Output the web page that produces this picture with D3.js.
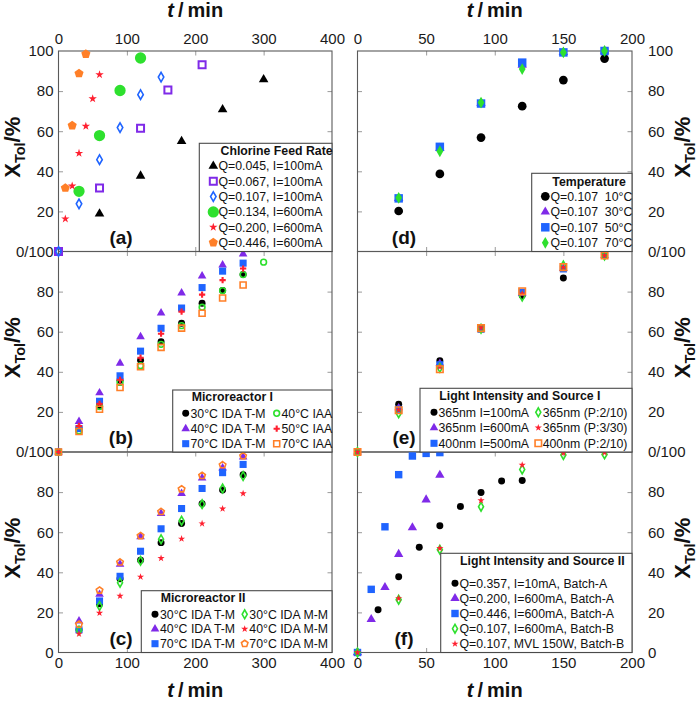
<!DOCTYPE html>
<html><head><meta charset="utf-8">
<script src="https://cdn.jsdelivr.net/npm/d3@7"></script>
<style>body{margin:0;background:#fff}svg{display:block}</style>
</head><body><svg width="700" height="703"></svg>
<script>
// ---------- DATA ----------
// Panel (a): Chlorine feed rate
const tA045 = [60,120,180,240,300];        const vA045 = [18.8,37.7,55,70.8,85.8];
const tA067 = [0,60,120,160,210];          const vA067 = [0,31.7,61.5,80.5,93.2];
const tA107 = [0,30,60,90,120,150];        const vA107 = [0,23.8,45.8,61.8,78.2,87];
const tA134 = [30,60,90,120];              const vA134 = [30,57.8,80.3,96.5];
const tA200 = [10,20,30,40,50,60];         const vA200 = [16.3,32.7,49,62.5,76.2,88.2];
const tA446 = [10,20,30,40];               const vA446 = [31.7,62.8,88.8,98.5];
// Panel (b): Microreactor I
const tB = [0,30,60,90,120,150,180,210,240,270];
const tB40IAA = [0,30,60,90,120,150,180,210,240,270,300];
const vB30IDA = [0,12,23,35.8,45.8,55,64.2,74.2,80.5,88.5];
const vB40IDA = [0,15.2,29.5,44.3,57.5,69.3,79.3,87.8,93.3,98.8];
const vB70IDA = [0,11.7,25.3,38,50.3,61.7,71.8,82,90.2,94.2];
const vB40IAA = [0,10.5,22.7,34.7,43,53.7,63,72.2,80.5,88.5,94.7];
const vB50IAA = [0,13,24,36,47,59,70,78.5,85.7,91.5];
const vB70IAA = [0,10.2,21.3,32.2,42.5,52.2,61.8,69.2,76.8,83.3];
// Panel (c): Microreactor II
const tC = [30,60,90,120,150,180,210,240,270];
const vC30TM = [11.3,24.3,36.8,46,54.8,64.3,74.2,81,88.7];
const vC40TM = [15.7,29,44,57.7,69.3,79.3,87,92,97.5];
const vC70TM = [11.3,25.7,38,50.5,61.7,71.8,81.8,89.7,93.8];
const vC30MM = [11,23.2,34.8,45.7,56.5,65.7,74,81.8,88];
const vC40MM = [9.3,19.7,28.2,37.7,47,56.7,64.3,71.7,79.3];
const vC70MM = [14,31,45,58.2,70.2,81.5,88.2,93.5,98];
// Panel (d): Temperature
const tD = [30,60,90,120,150,180];
const vD10 = [20.2,38.7,56.8,72.5,85.5,96.2];
const vD30 = [26.5,51.5,74,93,99.3,100];
const vD50 = [26.5,52.2,73.8,94.2,99.3,100];
const vD70 = [26.8,50,74.3,91,99.3,100];
// Panel (e): Light intensity and source I
const tE = [0,30,60,90,120,150,180];
const vE365I100 = [0,23.8,45.5,61.8,78,86.8,98];
const vE365I600 = [0,22,44.2,61.5,79,91.5,98];
const vE400I500 = [0,21.3,43.5,61.2,79.7,91.3,98];
const vE365P210 = [0,19.3,42,61.5,77.5,93,98];
const vE365P330 = [0,21,42.5,62,79,92,98];
const vE400P210 = [0,20.8,41.3,61.8,80.2,92.2,98];
// Panel (f): Light intensity and source II
const tF357 = [0,15,30,45,60,75,90,105,120]; const vF357 = [0,21.3,37.8,52.5,63.2,72.8,79.8,85.5,85.8];
const tF200 = [0,10,20,30,40,50,60];         const vF200 = [0,16.5,32.5,49,62.3,76.2,88.5];
const tF446 = [0,10,20,30,40,50,60];         const vF446 = [0,31.5,62.7,88.7,98,99.3,99.7];
const tFB = [0,30,60,90,120,150,180];
const vF107 = [0,26.3,51.3,72.7,91.3,98.5,98.8];
const vFMVL = [0,27,52,75.8,93.5,99.5,99.7];
// Ticks / labels
const xTicksL = [0,100,200,300,400];
const xTicksR = [0,50,100,150,200];
const yTicks = [0,20,40,60,80,100];
const legendTitles = ["Chlorine Feed Rate","Microreactor I","Microreactor II","Temperature","Light Intensity and Source I","Light Intensity and Source II"];
const panelLabels = ["(a)","(b)","(c)","(d)","(e)","(f)"];

// ---------- STYLE / LAYOUT ----------
const FONT = "'Liberation Sans', Arial, sans-serif";
const COL = {k:"#000000", p:"#7f2ae8", b:"#1f64ff", g:"#2ee02e", r:"#ff2030", o:"#ff7f27"};
const svg = d3.select("svg");
const xL = d3.scaleLinear().domain([0,400]).range([58.5,332]);
const xR = d3.scaleLinear().domain([0,200]).range([357.5,632]);
const tops = [51, 251.5, 452], H = 200.5;
const yS = row => d3.scaleLinear().domain([0,100]).range([tops[row]+H, tops[row]]);

function shapePath(shape, size){
  if (shape === "pentagon"){
    const R = Math.sqrt(size/2.378);
    const pts = d3.range(5).map(i => { const a = -Math.PI/2 + i*2*Math.PI/5; return [R*Math.cos(a), R*Math.sin(a)]; });
    return "M" + pts.map(p => p.join(",")).join("L") + "Z";
  }
  const map = {circle:d3.symbolCircle, triangle:d3.symbolTriangle, square:d3.symbolSquare,
               diamond:d3.symbolDiamond, star:d3.symbolStar, cross:d3.symbolCross};
  return d3.symbol().type(map[shape]).size(size)();
}
function mark(g, st, x, y){
  g.append("path").attr("transform",`translate(${x},${y})`)
   .attr("d", shapePath(st.shape, st.size))
   .attr("fill", st.fill ? st.color : "none")
   .attr("stroke", st.fill ? "none" : st.color)
   .attr("stroke-width", st.sw || 1.5);
}
function series(g, xs, ys, ts, vs, st){
  g.append("g").selectAll("path").data(d3.zip(ts, vs)).join("path")
   .attr("transform", d => `translate(${xs(d[0])},${ys(d[1])})`)
   .attr("d", shapePath(st.shape, st.size))
   .attr("fill", st.fill ? st.color : "none")
   .attr("stroke", st.fill ? "none" : st.color)
   .attr("stroke-width", st.sw || 1.5);
}

// ---------- FRAMES & TICKS ----------
const gFrame = svg.append("g");
const gMarks = svg.append("g");
const gLeg = svg.append("g");
const gText = svg.append("g").style("font-family", FONT);

function frame(xs, row, xInner){
  const ys = yS(row), [x0,x1] = xs.range(), y0 = tops[row], y1 = tops[row]+H;
  const tk = (axis, tr) => { const a = gFrame.append("g").attr("transform", tr).call(axis);
    a.select(".domain").remove(); a.selectAll("line").attr("stroke","#9a9a9a"); a.selectAll("text").remove(); };
  tk(d3.axisBottom(xs).tickValues(xInner).tickSize(-4.5).tickFormat(""), `translate(0,${y1})`);
  tk(d3.axisTop(xs).tickValues(xInner).tickSize(-4.5).tickFormat(""), `translate(0,${y0})`);
  tk(d3.axisLeft(ys).tickValues([20,40,60,80]).tickSize(-4.5).tickFormat(""), `translate(${x0},0)`);
  tk(d3.axisRight(ys).tickValues([20,40,60,80]).tickSize(-4.5).tickFormat(""), `translate(${x1},0)`);
  gFrame.append("rect").attr("x",x0).attr("y",y0).attr("width",x1-x0).attr("height",H)
    .attr("fill","none").attr("stroke","#5a5a5a").attr("stroke-width",1.1);
}
for (let r=0;r<3;r++){ frame(xL, r, [100,200,300]); frame(xR, r, [50,100,150]); }

// ---------- TICK LABELS ----------
function styleLabels(a){ a.select(".domain").remove(); a.selectAll("line").remove();
  a.selectAll("text").attr("font-family",FONT).attr("font-size",15).attr("fill","#1a1a1a"); }
for (let r=0;r<3;r++){
  const vals = r===2 ? yTicks : yTicks.slice(1);
  const fmt = v => v===100 ? (r===0 ? "100" : "0/100") : String(v);
  const aL = gText.append("g").attr("transform",`translate(${xL.range()[0]},0)`)
    .call(d3.axisLeft(yS(r)).tickValues(vals).tickSize(0).tickPadding(5).tickFormat(fmt));
  styleLabels(aL);
  const aR = gText.append("g").attr("transform",`translate(${xR.range()[1]},0)`)
    .call(d3.axisRight(yS(r)).tickValues(vals).tickSize(0).tickPadding(16).tickFormat(fmt));
  styleLabels(aR);
}
[[xL,xTicksL],[xR,xTicksR]].forEach(([xs,tv]) => {
  styleLabels(gText.append("g").attr("transform",`translate(0,${tops[0]})`)
    .call(d3.axisTop(xs).tickValues(tv).tickSize(0).tickPadding(7)));
  styleLabels(gText.append("g").attr("transform",`translate(0,${tops[2]+H})`)
    .call(d3.axisBottom(xs).tickValues(tv).tickSize(0).tickPadding(5)));
});

// axis titles
function tTitle(x, y){
  const t = gText.append("text").attr("x",x).attr("y",y).attr("text-anchor","middle")
    .attr("font-size",20).attr("font-weight","bold").attr("fill","#111");
  t.append("tspan").attr("font-style","italic").text("t");
  t.append("tspan").text("\u2009/\u2009min");
}
[xL,xR].forEach(xs => { const c = d3.mean(xs.range()); tTitle(c, 17); tTitle(c, 697); });
function yTitle(x, yc){
  const t = gText.append("text").attr("transform",`translate(${x},${yc}) rotate(-90)`)
    .attr("text-anchor","middle").attr("font-size",22).attr("font-weight","bold").attr("fill","#111");
  t.append("tspan").text("X");
  t.append("tspan").attr("font-size",14.5).attr("dy",5).text("Tol");
  t.append("tspan").attr("dy",-5).text("/%");
}
for (let r=0;r<3;r++){ const yc = tops[r]+H/2-4; yTitle(20, yc); yTitle(690, yc); }

// panel labels
const labPos = [[xL,0],[xL,1],[xL,2],[xR,0],[xR,1],[xR,2]];
panelLabels.forEach((s,i) => {
  const [xs,r] = labPos[i];
  const x = xs === xL ? 121 : 404;
  gText.append("text").attr("x",x).attr("y",tops[r]+H-8).attr("text-anchor","middle")
    .attr("font-size",19).attr("font-weight","bold").attr("fill","#111").text(s);
});

// ---------- SERIES ----------
const S = {
  a045:{shape:"triangle",color:COL.k,fill:true,size:40},
  a067:{shape:"square",color:COL.p,fill:false,size:49,sw:2},
  a107:{shape:"diamond",color:COL.b,fill:false,size:26,sw:1.6},
  a134:{shape:"circle",color:COL.g,fill:true,size:100},
  a200:{shape:"star",color:COL.r,fill:true,size:22},
  a446:{shape:"pentagon",color:COL.o,fill:true,size:55},

  bk:{shape:"circle",color:COL.k,fill:true,size:38},
  bp:{shape:"triangle",color:COL.p,fill:true,size:32},
  bb:{shape:"square",color:COL.b,fill:true,size:50},
  bg:{shape:"circle",color:COL.g,fill:false,size:26,sw:1.6},
  br:{shape:"cross",color:COL.r,fill:true,size:22},
  bo:{shape:"square",color:COL.o,fill:false,size:36,sw:1.6},

  cg:{shape:"diamond",color:COL.g,fill:false,size:22,sw:1.6},
  cr:{shape:"star",color:COL.r,fill:true,size:16},
  co:{shape:"pentagon",color:COL.o,fill:false,size:28,sw:1.6},

  dk:{shape:"circle",color:COL.k,fill:true,size:60},
  dp:{shape:"triangle",color:COL.p,fill:true,size:38},
  db:{shape:"square",color:COL.b,fill:true,size:72},
  dg:{shape:"diamond",color:COL.g,fill:true,size:40},

  eo:{shape:"square",color:COL.o,fill:false,size:42,sw:1.6},
  fp:{shape:"triangle",color:COL.p,fill:true,size:38},
  fb:{shape:"square",color:COL.b,fill:true,size:55}
};

const y0 = yS(0), y1 = yS(1), y2 = yS(2);
// (a)
series(gMarks,xL,y0,tA045,vA045,S.a045);
series(gMarks,xL,y0,tA067,vA067,S.a067);
series(gMarks,xL,y0,tA107,vA107,S.a107);
series(gMarks,xL,y0,tA134,vA134,S.a134);
series(gMarks,xL,y0,tA200,vA200,S.a200);
series(gMarks,xL,y0,tA446,vA446,S.a446);
// (b)
series(gMarks,xL,y1,tB,vB30IDA,S.bk);
series(gMarks,xL,y1,tB,vB40IDA,S.bp);
series(gMarks,xL,y1,tB,vB70IDA,S.bb);
series(gMarks,xL,y1,tB40IAA,vB40IAA,S.bg);
series(gMarks,xL,y1,tB,vB50IAA,S.br);
series(gMarks,xL,y1,tB,vB70IAA,S.bo);
// (c)
series(gMarks,xL,y2,tC,vC30TM,S.bk);
series(gMarks,xL,y2,tC,vC40TM,S.bp);
series(gMarks,xL,y2,tC,vC70TM,S.bb);
series(gMarks,xL,y2,tC,vC30MM,S.cg);
series(gMarks,xL,y2,tC,vC40MM,S.cr);
series(gMarks,xL,y2,tC,vC70MM,S.co);
// (d)
series(gMarks,xR,y0,tD,vD10,S.dk);
series(gMarks,xR,y0,tD,vD30,S.dp);
series(gMarks,xR,y0,tD,vD50,S.db);
series(gMarks,xR,y0,tD,vD70,S.dg);
// (e)
series(gMarks,xR,y1,tE,vE365I100,S.bk);
series(gMarks,xR,y1,tE,vE365I600,S.bp);
series(gMarks,xR,y1,tE,vE400I500,S.bb);
series(gMarks,xR,y1,tE,vE365P210,S.cg);
series(gMarks,xR,y1,tE,vE365P330,S.cr);
series(gMarks,xR,y1,tE,vE400P210,S.eo);
// (f)
series(gMarks,xR,y2,tF357,vF357,S.bk);
series(gMarks,xR,y2,tF200,vF200,S.fp);
series(gMarks,xR,y2,tF446,vF446,S.fb);
series(gMarks,xR,y2,tFB,vF107,S.cg);
series(gMarks,xR,y2,tFB,vFMVL,S.cr);

// ---------- LEGENDS ----------
function legend(box, title, tx, ty, items){
  gLeg.append("rect").attr("x",box[0]).attr("y",box[1]).attr("width",box[2]-box[0]).attr("height",box[3]-box[1])
    .attr("fill","#fff").attr("stroke","#4a4a4a").attr("stroke-width",1.1);
  gLeg.append("text").attr("x",tx).attr("y",ty).attr("dy","0.36em").attr("font-family",FONT)
    .attr("font-size",12.3).attr("font-weight","bold").attr("fill","#111").text(title);
  items.forEach(([st,label,mx,lx,y]) => {
    mark(gLeg, st, mx, y);
    gLeg.append("text").attr("x",lx).attr("y",y).attr("dy","0.36em").attr("font-family",FONT)
      .attr("font-size",12.3).attr("fill","#111").text(label);
  });
}
legend([199.3,143.3,332,251.5], legendTitles[0], 220.5, 151, [
  [S.a045,"Q=0.045, I=100mA",213.3,218.5,166],
  [S.a067,"Q=0.067, I=100mA",213.3,218.5,181.3],
  [S.a107,"Q=0.107, I=100mA",213.3,218.5,196.6],
  [S.a134,"Q=0.134, I=600mA",213.3,218.5,211.9],
  [S.a200,"Q=0.200, I=600mA",213.3,218.5,227.2],
  [S.a446,"Q=0.446, I=600mA",213.3,218.5,242.5]]);
legend([172.7,390,332,452], legendTitles[1], 191.7, 397, [
  [S.bk,"30°C IDA T-M",185.7,190.5,413.3],[S.bg,"40°C IAA",276.7,281.5,413.3],
  [S.bp,"40°C IDA T-M",185.7,190.5,428.7],[S.br,"50°C IAA",276.7,281.5,428.7],
  [S.bb,"70°C IDA T-M",185.7,190.5,443.7],[S.bo,"70°C IAA",276.7,281.5,443.7]]);
legend([141.3,590.7,332,652.5], legendTitles[2], 160.7, 597.7, [
  [S.bk,"30°C IDA T-M",155,160,614.3],[S.cg,"30°C IDA M-M",244.7,249.3,614.3],
  [S.bp,"40°C IDA T-M",155,160,629],[S.cr,"40°C IDA M-M",244.7,249.3,629],
  [S.bb,"70°C IDA T-M",155,160,643.7],[S.co,"70°C IDA M-M",244.7,249.3,643.7]]);
legend([531.7,173.3,632,251.5], legendTitles[3], 552.3, 181.7, [
  [S.dk,"Q=0.107  10°C",545.3,550.5,196.3],
  [S.dp,"Q=0.107  30°C",545.3,550.5,211.8],
  [S.db,"Q=0.107  50°C",545.3,550.5,227.3],
  [S.dg,"Q=0.107  70°C",545.3,550.5,242.8]]);
legend([420,388.3,632,452], legendTitles[4], 439.3, 395.7, [
  [S.bk,"365nm I=100mA",434,438.5,412.3],[S.cg,"365nm (P:2/10)",538.3,542.7,412.3],
  [S.bp,"365nm I=600mA",434,438.5,427.7],[S.cr,"365nm (P:3/30)",538.3,542.7,427.7],
  [S.bb,"400nm I=500mA",434,438.5,443.3],[S.eo,"400nm (P:2/10)",538.3,542.7,443.3]]);
legend([440.7,553.3,632,652.5], legendTitles[5], 460, 560.7, [
  [S.bk,"Q=0.357, I=10mA, Batch-A",455,459.5,583.3],
  [S.fp,"Q=0.200, I=600mA, Batch-A",455,459.5,598.3],
  [S.fb,"Q=0.446, I=600mA, Batch-A",455,459.5,613.5],
  [S.cg,"Q=0.107, I=600mA, Batch-B",455,459.5,628.7],
  [S.cr,"Q=0.107, MVL 150W, Batch-B",455,459.5,643.8]]);
d3.selectAll("text").style("white-space","pre");
</script></body></html>
